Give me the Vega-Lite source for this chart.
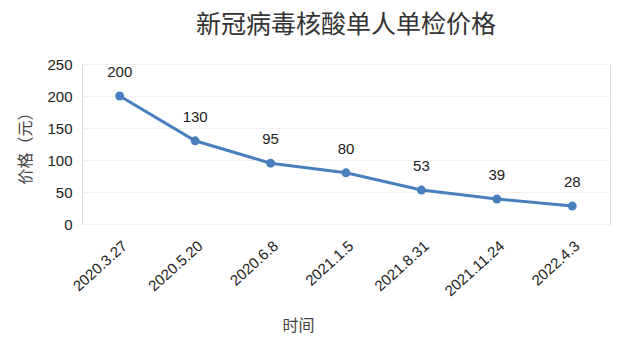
{
  "$schema": "https://vega.github.io/schema/vega-lite/v6.json",
  "width": 528,
  "height": 160,
  "autosize": {"type": "none"},
  "padding": {"left": 82, "top": 64, "right": 26, "bottom": 134},
  "background": "white",
  "title": {
    "text": "新冠病毒核酸单人单检价格",
    "font": "Noto Sans CJK SC",
    "fontSize": 25,
    "fontWeight": "normal",
    "color": "#333333",
    "anchor": "middle",
    "offset": 19
  },
  "data": {
    "values": [
      {"date": "2020.3.27", "price": 200},
      {"date": "2020.5.20", "price": 130},
      {"date": "2020.6.8", "price": 95},
      {"date": "2021.1.5", "price": 80},
      {"date": "2021.8.31", "price": 53},
      {"date": "2021.11.24", "price": 39},
      {"date": "2022.4.3", "price": 28}
    ]
  },
  "encoding": {
    "x": {
      "field": "date",
      "type": "ordinal",
      "sort": null,
      "scale": {"type": "point", "padding": 0.5},
      "axis": {
        "title": "时间",
        "titleFont": "Noto Sans CJK SC",
        "titleFontSize": 16,
        "titleFontWeight": "normal",
        "titleColor": "#444444",
        "titleX": 216,
        "titleY": 101,
        "titleAlign": "center",
        "titleBaseline": "middle",
        "labelAngle": -42,
        "labelFont": "Liberation Sans",
        "labelFontSize": 15,
        "labelColor": "#222222",
        "labelPadding": 14,
        "domain": false,
        "ticks": false,
        "grid": false
      }
    },
    "y": {
      "field": "price",
      "type": "quantitative",
      "scale": {"domain": [0, 250]},
      "axis": {
        "title": "价格（元）",
        "titleFont": "Noto Sans CJK SC",
        "titleFontSize": 16,
        "titleFontWeight": "normal",
        "titleColor": "#444444",
        "titleAngle": -90,
        "titleX": -57,
        "titleY": 80,
        "titleAlign": "center",
        "titleBaseline": "middle",
        "values": [0, 50, 100, 150, 200, 250],
        "labelFont": "Liberation Sans",
        "labelFontSize": 15,
        "labelColor": "#222222",
        "labelPadding": 10,
        "domain": false,
        "ticks": false,
        "grid": true,
        "gridColor": "#f0f0f0",
        "gridWidth": 1
      }
    }
  },
  "layer": [
    {
      "mark": {"type": "line", "color": "#4a7fbd", "strokeWidth": 3},
      "encoding": {}
    },
    {
      "mark": {"type": "point", "filled": true, "color": "#4a7fbd", "size": 80, "opacity": 1},
      "encoding": {}
    },
    {
      "mark": {"type": "text", "font": "Liberation Sans", "fontSize": 15, "color": "#222222", "baseline": "middle", "dy": -24},
      "encoding": {"text": {"field": "price", "type": "quantitative"}}
    }
  ]
}
